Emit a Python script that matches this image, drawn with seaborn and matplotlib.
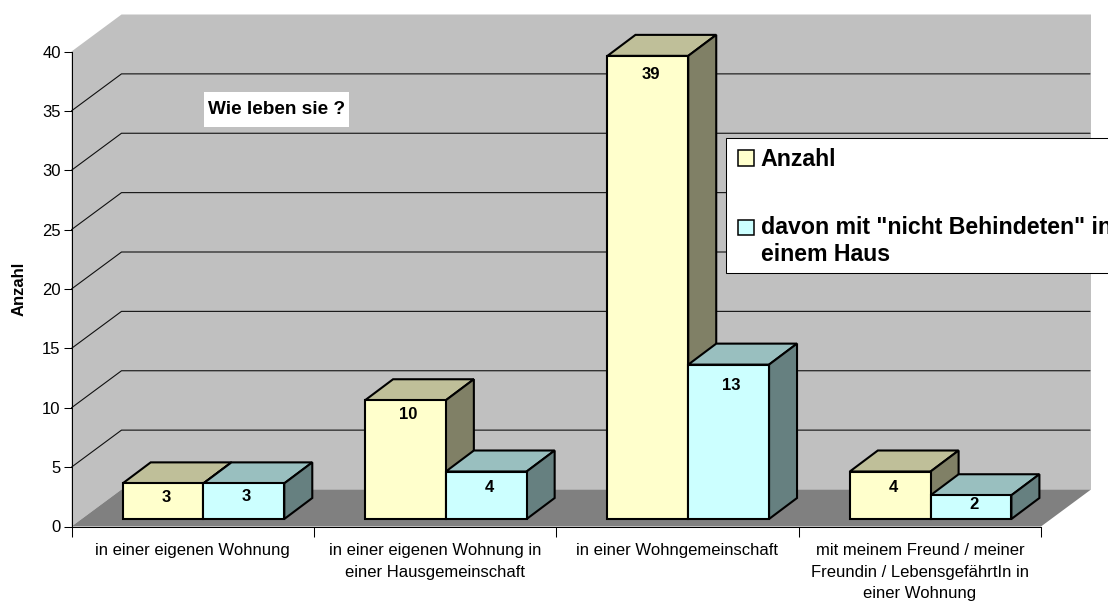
import numpy as np
import pandas as pd
import matplotlib
matplotlib.use("Agg")
import matplotlib.pyplot as plt
import seaborn as sns
from matplotlib.patches import Patch, Rectangle
from matplotlib.transforms import Affine2D, IdentityTransform

# Chart data
categories = ['in einer eigenen Wohnung',
              'in einer eigenen Wohnung in\neiner Hausgemeinschaft',
              'in einer Wohngemeinschaft',
              'mit meinem Freund / meiner\nFreundin / LebensgefährtIn in\neiner Wohnung']
series_names = ['Anzahl', 'davon mit "nicht Behindeten" in\neinem Haus']
anzahl = [3, 10, 39, 4]
davon = [3, 4, 13, 2]
y_ticks = [0, 5, 10, 15, 20, 25, 30, 35, 40]

# Styles
front_colors = ['#FFFFCC', '#CCFFFF']
top_colors = ['#BFBF99', '#99BFBF']
side_colors = ['#808066', '#668080']
label_nudge = [[14, 14, 18.5, 16.5], [13, 16, 20.5, 9]]  # px below bar top

sns.set_theme(style='white')
plt.rcParams['font.family'] = ['Liberation Sans', 'DejaVu Sans']

df = pd.DataFrame({
    'category': categories * 2,
    'series': [series_names[0]] * 4 + [series_names[1]] * 4,
    'value': anzahl + davon,
})

W, H = 1108, 601
fig = plt.figure(figsize=(W / 100, H / 100), dpi=100)
ax = fig.add_axes([71.5 / W, (H - 526.5) / H, 969.5 / W, 475 / H])
ax.patch.set_visible(False)
ax.set_zorder(5)
pixels = IdentityTransform()

sns.barplot(data=df, x='category', y='value', hue='series', hue_order=series_names,
            palette=front_colors, saturation=1, width=2 / 3, gap=0, legend=False,
            edgecolor='black', linewidth=1.5, ax=ax)
ax.set_xlim(-0.5, 3.5)
ax.set_ylim(0, 40)
fig.canvas.draw()

# 3D shell: depth of wall and bars in pixels
d_wall = np.array([50, 37])
d_front = np.array([10.8, 7.5])
d_bar = np.array([28, 21])


def px(x, y):
    return ax.transData.transform((x, y))


fl, fr = px(-0.5, 0), px(3.5, 0)
tl, tr = px(-0.5, 40), px(3.5, 40)

# walls and floor
fig.add_artist(plt.Polygon([tl, tl + d_wall, tr + d_wall, fr + d_wall, fl + d_wall, fl],
                           transform=pixels, facecolor='#C0C0C0', edgecolor='none', zorder=1))
fig.add_artist(plt.Polygon([fl, fr, fr + d_wall, fl + d_wall],
                           transform=pixels, facecolor='#808080', edgecolor='none', zorder=2))

# grid lines, running along side wall and back wall
for t in y_ticks[1:-1]:
    p, q = px(-0.5, t), px(3.5, t)
    pts = np.array([p, p + d_wall, q + d_wall - [1, 0]])
    fig.add_artist(plt.Line2D(pts[:, 0], pts[:, 1], transform=pixels, color='#101010',
                              linewidth=0.8, zorder=3))

# bars: shift the seaborn fronts into the box, add top and side faces
shift = Affine2D().translate(*d_front)
for i, (container, values) in enumerate(zip(ax.containers, [anzahl, davon])):
    for j, (bar, v) in enumerate(zip(container, values)):
        z = 3 + i * 2
        bar.set_transform(ax.transData + shift)
        bar.set_clip_on(False)
        bar.set_zorder(z + 1)
        bar.set_joinstyle('miter')
        x0, x1 = bar.get_x(), bar.get_x() + bar.get_width()
        a, b = px(x0, v) + d_front, px(x1, v) + d_front
        c = px(x1, 0) + d_front
        for pts, col in [([a, b, b + d_bar, a + d_bar], top_colors[i]),
                         ([b, b + d_bar, c + d_bar, c], side_colors[i])]:
            ax.add_artist(plt.Polygon(pts, facecolor=col, edgecolor='black', linewidth=1.5,
                                      transform=pixels, zorder=z, clip_on=False, joinstyle='miter'))
        ax.annotate(str(v), xy=(a + b) / 2, xycoords='figure pixels',
                    xytext=(2.8 * 0.72, -label_nudge[i][j] * 0.72),
                    textcoords='offset points', ha='center', va='center',
                    fontsize=12, fontweight='bold', color='black', zorder=20)

# axes
ax.set_xlabel('')
ax.set_ylabel('Anzahl', fontsize=12, fontweight='bold', color='black')
ax.yaxis.set_label_coords((27 - 71.5) / 969.5, 0.5)
ax.set_yticks(y_ticks)
ax.set_xticks(range(4))
ax.set_xticklabels(categories, fontsize=12, color='black', linespacing=1.53)
ax.set_xticks(np.arange(-0.5, 4), minor=True)
ax.tick_params(axis='x', which='major', length=0, pad=12)
ax.tick_params(axis='x', which='minor', length=7.2, width=0.75, color='black', bottom=True)
ax.tick_params(axis='y', which='major', length=5.8, width=0.75, color='black', left=True,
               labelsize=12, labelcolor='black', pad=2)
for s in ['top', 'right']:
    ax.spines[s].set_visible(False)
for s in ['left', 'bottom']:
    ax.spines[s].set_visible(True)
    ax.spines[s].set_color('black')
    ax.spines[s].set_linewidth(0.75)
    ax.spines[s].set_zorder(2.5)

# title box
ax.add_artist(Rectangle((204, H - 127), 145, 35, transform=pixels, facecolor='white',
                        edgecolor='none', zorder=29, clip_on=False))
ax.text(276.5, H - 109.5, 'Wie leben sie ?', transform=pixels, ha='center', va='center',
        fontsize=13.7, fontweight='bold', color='black', zorder=30)

# legend box runs past the right edge of the picture
ax.add_artist(Rectangle((725.5, H - 272.5), 500, 134.5, transform=pixels, facecolor='white',
                        edgecolor='black', linewidth=0.75, zorder=29, clip_on=False))
handles = [Patch(facecolor=front_colors[k], edgecolor='black', linewidth=1.1) for k in range(2)]
leg = ax.legend(handles, series_names, loc='upper left',
                bbox_to_anchor=(725.5 / W, 1 - 135.5 / H), bbox_transform=fig.transFigure,
                borderaxespad=0, frameon=False, handlelength=0.68, handleheight=0.66,
                handletextpad=0.3, borderpad=0.54, labelspacing=1.92,
                prop=dict(size=16.7, weight='bold'))
leg.set_zorder(30)
for t in leg.get_texts():
    t.set_color('black')
    t.set_linespacing(1.23)
h2 = leg.get_patches()[1]
h2.set_y(h2.get_y() + 10)

fig.savefig('out.png', dpi=100)
